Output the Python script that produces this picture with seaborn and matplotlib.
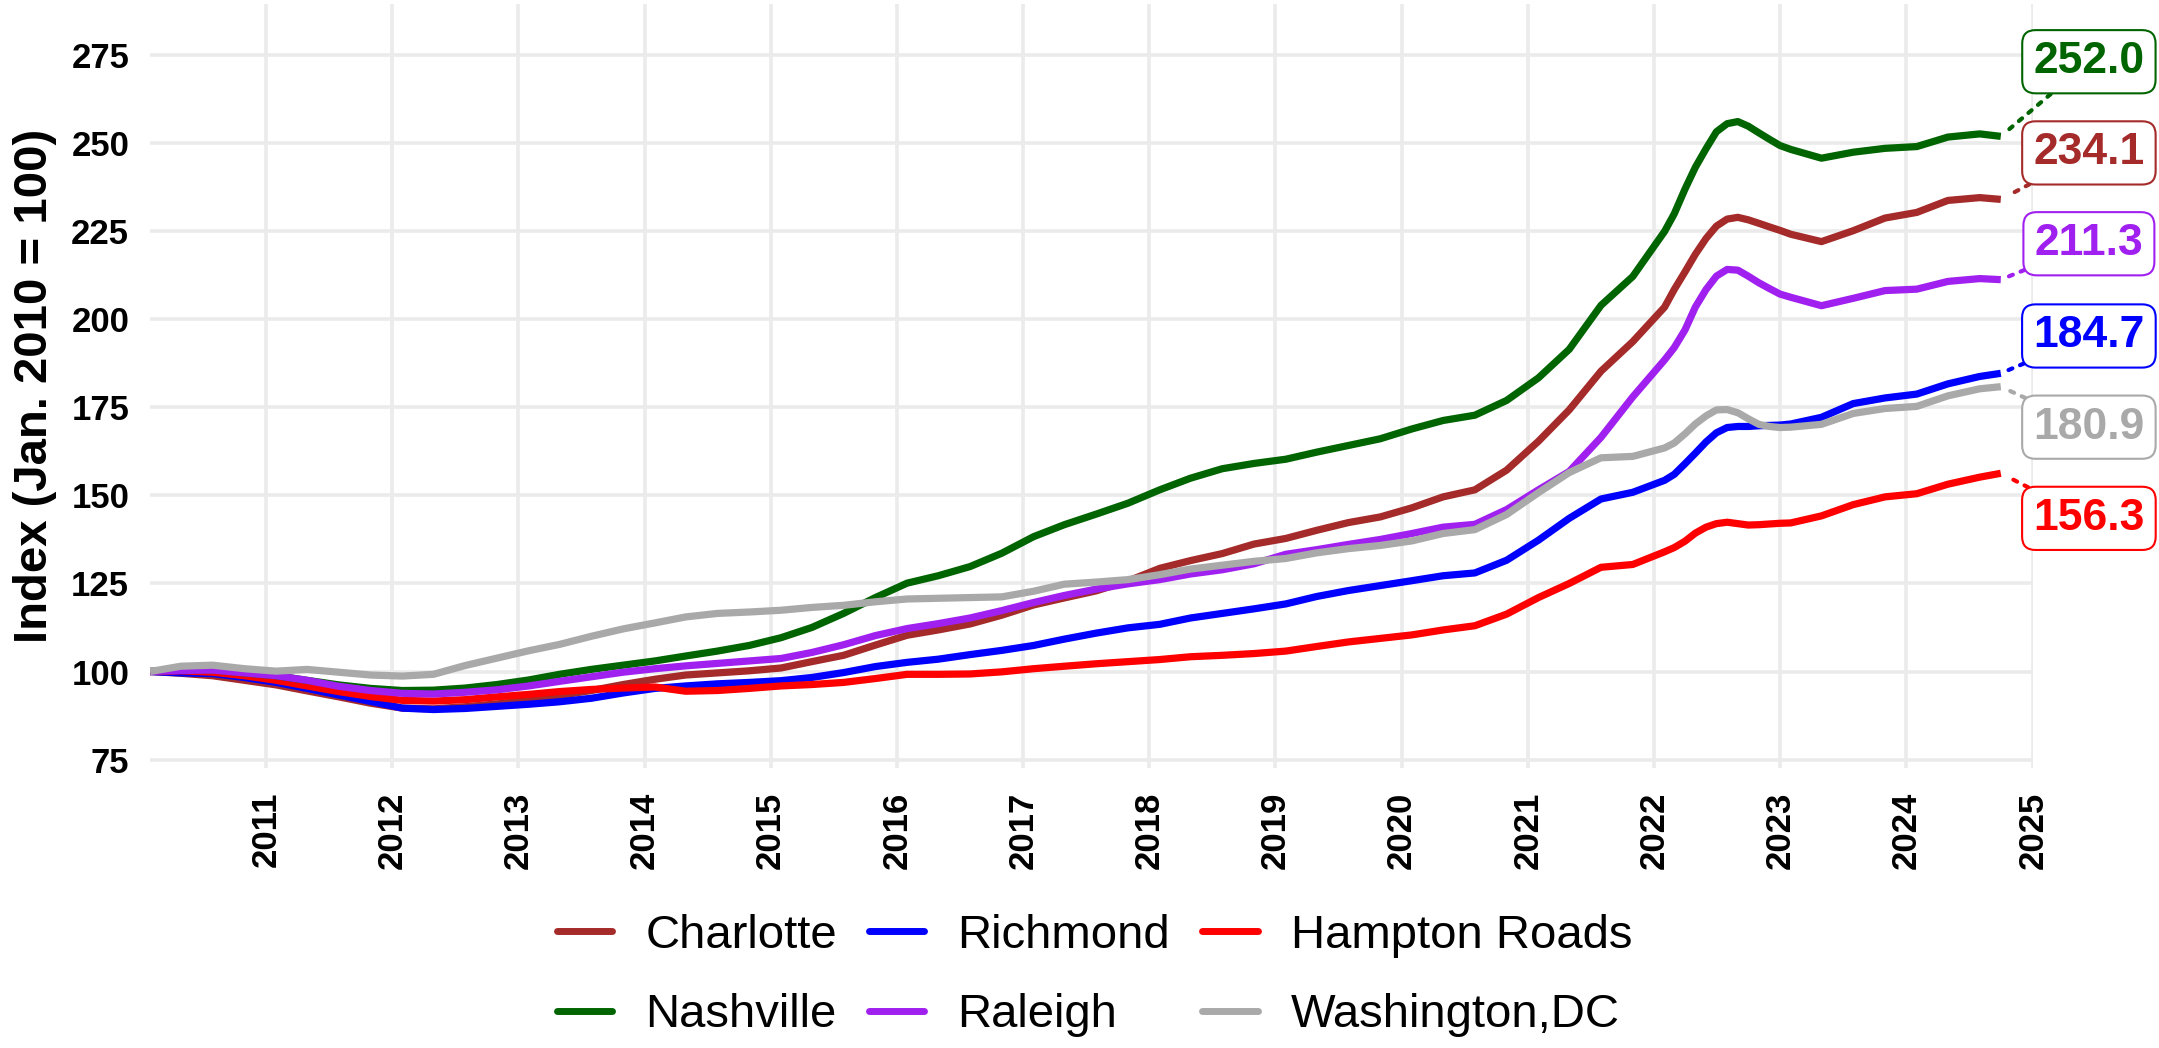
import pandas as pd
import matplotlib
matplotlib.use("Agg")
import matplotlib.pyplot as plt
import matplotlib.dates as mdates
from matplotlib.lines import Line2D
import seaborn as sns

# ---- data: home price index, Jan. 2010 = 100 (month-end observations) ----
cities = ["Charlotte", "Richmond", "Hampton Roads", "Nashville", "Raleigh", "Washington,DC"]
colors = ["#A52A2A", "#0000FF", "#FF0000", "#006400", "#A020F0", "#A9A9A9"]


def month_end(y, m):
    return pd.Timestamp(y, m, 1) + pd.offsets.MonthEnd(0)


# quarterly through 2021, monthly across 2022, quarterly afterwards (last: Sep 2024)
dates = ([month_end(y, m) for y in range(2010, 2022) for m in (1, 4, 7, 10)]
         + [month_end(2022, m) for m in range(1, 13)]
         + [month_end(2023, m) for m in (1, 4, 7, 10)]
         + [month_end(2024, m) for m in (1, 4, 7, 9)])

charlotte = [100.0, 99.5, 98.8, 97.5, 96.2, 94.5, 92.8, 91.0, 89.6, 89.4, 90.0, 90.8,
             91.8, 93.2, 94.6, 96.3, 97.8, 99.0, 99.6, 100.2, 101.0, 102.8, 104.6, 107.5,
             110.3, 111.8, 113.5, 116.0, 118.9, 120.9, 122.9, 125.7, 129.3, 131.5, 133.5, 136.2,
             137.8, 140.1, 142.3, 143.9, 146.5, 149.6, 151.6, 157.2, 165.4, 174.3, 185.3, 193.7,
             203.5, 208.5, 213.5, 218.5, 223.0, 226.5, 228.5, 229.0, 228.3, 227.3, 226.3, 225.3,
             224.2, 222.1, 225.2, 228.8, 230.4, 233.8, 234.6, 234.1]
richmond = [100.0, 99.6, 99.4, 98.3, 96.9, 95.2, 93.3, 91.5, 89.6, 89.2, 89.5, 90.1,
            90.7, 91.4, 92.4, 93.9, 95.2, 95.9, 96.5, 96.9, 97.4, 98.3, 99.7, 101.4,
            102.6, 103.5, 104.8, 106.0, 107.4, 109.2, 110.9, 112.4, 113.4, 115.2, 116.5, 117.8,
            119.2, 121.3, 123.0, 124.4, 125.8, 127.2, 128.0, 131.6, 137.3, 143.5, 149.0, 150.9,
            154.3, 156.0, 159.0, 162.0, 165.2, 167.8, 169.3, 169.6, 169.6, 169.8, 169.9, 170.0,
            170.3, 172.2, 176.1, 177.7, 178.8, 181.7, 183.8, 184.7]
hampton_roads = [100.0, 100.2, 99.8, 98.8, 97.5, 95.9, 94.3, 92.9, 91.8, 91.6, 92.0, 92.8,
                 93.5, 94.3, 94.9, 95.3, 95.6, 94.4, 94.6, 95.2, 95.9, 96.3, 96.9, 98.0,
                 99.2, 99.2, 99.3, 99.9, 100.8, 101.5, 102.2, 102.8, 103.4, 104.2, 104.6, 105.1,
                 105.8, 107.1, 108.4, 109.4, 110.4, 111.8, 113.0, 116.3, 121.0, 125.0, 129.6, 130.4,
                 134.0, 135.2, 137.0, 139.3, 141.0, 142.0, 142.4, 142.0, 141.6, 141.7, 141.9, 142.1,
                 142.2, 144.2, 147.4, 149.6, 150.5, 153.2, 155.2, 156.3]
nashville = [100.0, 100.6, 100.5, 99.6, 98.8, 97.5, 96.2, 95.2, 94.6, 94.7, 95.3, 96.3,
             97.6, 99.2, 100.6, 101.8, 103.0, 104.4, 105.8, 107.4, 109.6, 112.5, 116.5, 121.0,
             125.1, 127.2, 129.8, 133.6, 138.3, 141.7, 144.7, 147.8, 151.6, 154.9, 157.6, 159.1,
             160.3, 162.3, 164.2, 166.1, 168.9, 171.3, 172.8, 177.0, 183.4, 191.5, 204.0, 212.2,
             225.0, 230.0, 237.0, 243.2, 248.5, 253.3, 255.6, 256.2, 254.9, 253.0, 251.2, 249.4,
             248.3, 245.8, 247.5, 248.6, 249.1, 251.8, 252.7, 252.0]
raleigh = [100.0, 100.3, 100.4, 99.6, 98.8, 97.5, 95.8, 94.6, 93.8, 93.6, 94.1, 94.8,
           95.9, 97.2, 98.5, 99.8, 100.8, 101.6, 102.3, 103.0, 103.7, 105.4, 107.6, 110.2,
           112.2, 113.6, 115.2, 117.3, 119.6, 121.6, 123.4, 124.9, 126.1, 127.7, 128.9, 130.6,
           133.3, 134.6, 136.1, 137.5, 139.2, 141.0, 141.8, 146.0, 151.6, 156.8, 166.5, 178.0,
           188.5, 192.0, 197.0, 203.5, 208.5, 212.3, 214.2, 214.0, 212.3, 210.4, 208.8, 207.2,
           206.3, 203.9, 206.0, 208.2, 208.6, 210.8, 211.6, 211.3]
washington_dc = [100.0, 101.5, 101.8, 100.8, 100.1, 100.6, 99.8, 99.0, 98.7, 99.2, 101.7, 103.8,
                 105.9, 107.7, 110.0, 112.1, 113.8, 115.5, 116.5, 116.9, 117.4, 118.2, 118.8, 119.8,
                 120.6, 120.8, 121.0, 121.2, 122.8, 124.8, 125.4, 126.1, 127.5, 129.1, 130.2, 131.3,
                 132.1, 133.7, 134.9, 135.8, 137.1, 139.2, 140.3, 144.6, 150.8, 156.5, 160.7, 161.1,
                 163.5, 164.9, 167.5, 170.3, 172.6, 174.3, 174.4, 173.5, 171.8, 170.2, 169.6, 169.3,
                 169.4, 170.2, 173.3, 174.7, 175.3, 178.3, 180.3, 180.9]

series = [charlotte, richmond, hampton_roads, nashville, raleigh, washington_dc]
year_ticks = list(range(2011, 2026))
y_ticks = list(range(75, 276, 25))

df = pd.concat([pd.DataFrame({"date": dates, "value": v, "city": c})
                for c, v in zip(cities, series)], ignore_index=True)

# ---- figure ----
sns.set_theme(style="white")
plt.rcParams["font.family"] = ["Liberation Sans", "DejaVu Sans"]

fig = plt.figure(figsize=(21.59, 10.48), dpi=100)
ax = fig.add_axes([0.0695, 0.2672, 0.8721, 0.7290])

palette = dict(zip(cities, colors))
sns.lineplot(data=df, x="date", y="value", hue="city", hue_order=cities,
             palette=palette, linewidth=5.2, estimator=None, legend=False, ax=ax)
for ln in ax.get_lines():
    ln.set_solid_joinstyle("round")
    ln.set_solid_capstyle("butt")

ax.set_xlim(dates[0], pd.Timestamp("2025-01-01"))
ax.set_ylim(72.6, 289.6)
ax.set_xticks([pd.Timestamp(y, 1, 1) for y in year_ticks])
ax.xaxis.set_major_formatter(mdates.DateFormatter("%Y"))
ax.set_yticks(y_ticks)
ax.grid(True, color="#EBEBEB", linewidth=2.6)
ax.set_axisbelow(True)
for s in ax.spines.values():
    s.set_visible(False)

ax.tick_params(axis="x", length=0, pad=17, labelsize=25, labelrotation=90)
ax.tick_params(axis="y", length=0, pad=15, labelsize=25)
for lab in ax.get_xticklabels() + ax.get_yticklabels():
    lab.set_fontweight("bold")
    lab.set_color("black")

ax.set_xlabel("")
ax.set_ylabel("Index (Jan. 2010 = 100)", fontsize=34, fontweight="bold", color="black")
ax.yaxis.set_label_coords(-0.0495, 0.5)

# ---- end-of-series value labels ----
label_x = mdates.date2num(pd.Timestamp("2025-06-12"))
label_y = [247.3, 195.3, 143.5, 273.2, 221.5, 169.4]
for city, c, v, ly in zip(cities, colors, series, label_y):
    ax.annotate(f"{v[-1]:.1f}",
                xy=(mdates.date2num(dates[-1]), v[-1]),
                xytext=(label_x, ly), textcoords="data",
                ha="center", va="center", fontsize=32, fontweight="bold", color=c,
                annotation_clip=False,
                bbox=dict(boxstyle="round,pad=0.25,rounding_size=0.3",
                          fc="white", ec=c, lw=1.5),
                arrowprops=dict(arrowstyle="-", color=c, lw=3,
                                linestyle=(0, (1.0, 2.0)), shrinkA=0, shrinkB=6))

# ---- legend (two rows, filled row by row) ----
order = [0, 3, 1, 4, 2, 5]
handles = [Line2D([], [], color=colors[i], lw=5) for i in order]
labels = [cities[i] for i in order]
fig.legend(handles, labels, ncol=3, loc="center", bbox_to_anchor=(0.507, 0.069),
           frameon=False, fontsize=34, handlelength=1.17, handletextpad=0.7,
           columnspacing=0.68, labelspacing=0.75, labelcolor="black")

fig.savefig("out.png", dpi=100)
